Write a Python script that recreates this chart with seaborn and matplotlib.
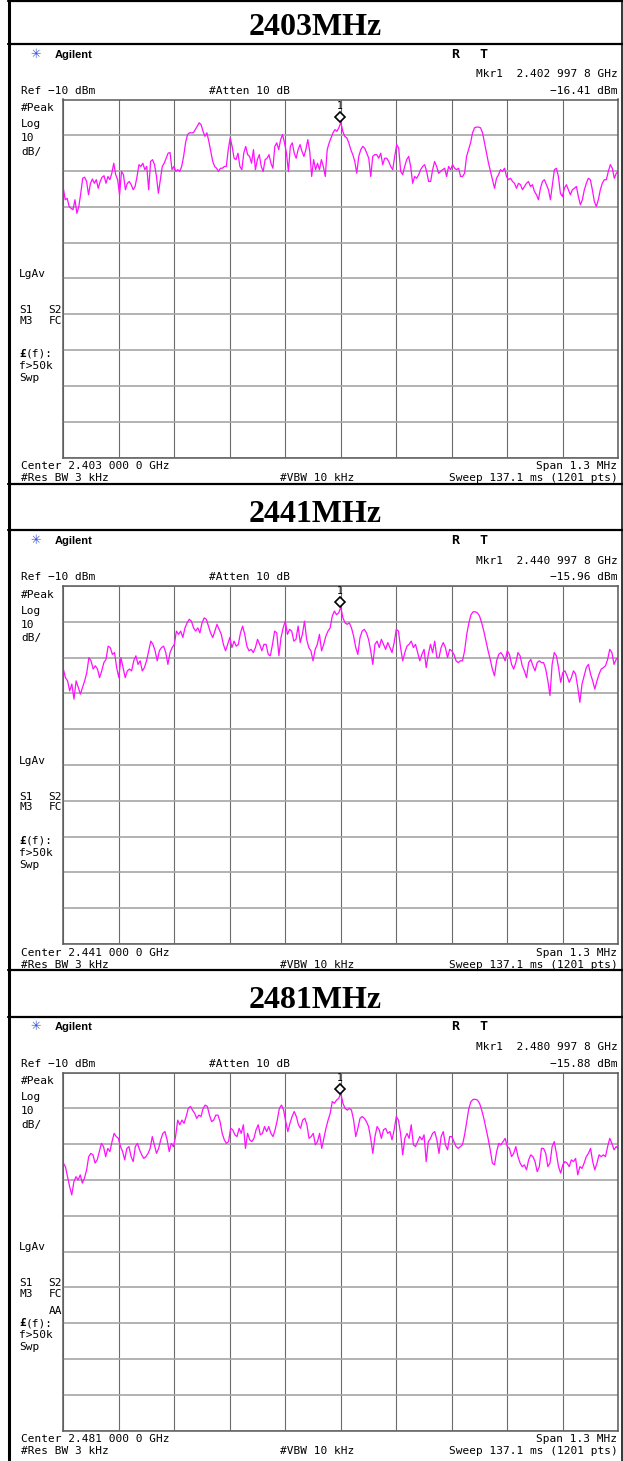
import numpy as np
import matplotlib
matplotlib.use("Agg")
import matplotlib.pyplot as plt
from matplotlib import transforms
import seaborn as sns

# three spectrum-analyser screens, one per channel
titles = ["2403MHz", "2441MHz", "2481MHz"]
centers_mhz = [2403.0, 2441.0, 2481.0]
center_labels = ["Center 2.403 000 0 GHz", "Center 2.441 000 0 GHz", "Center 2.481 000 0 GHz"]
mkr_labels = ["Mkr1  2.402 997 8 GHz", "Mkr1  2.440 997 8 GHz", "Mkr1  2.480 997 8 GHz"]
mkr_freq = [2402.9978, 2440.9978, 2480.9978]
mkr_level = [-16.41, -15.96, -15.88]
mkr_texts = ["\u221216.41 dBm", "\u221215.96 dBm", "\u221215.88 dBm"]
span_mhz = 1.3
ref_level = -10
db_div = 10

# trace levels in dBm, read off the screens
# lo = left edge .. centre (centre included), hi = right of centre .. right edge
lo_2403 = [-34.8, -38.0, -37.6, -39.9, -40.4, -40.8, -38.0, -41.8, -39.9, -36.2,
           -32.0, -31.7, -32.9, -36.6, -33.4, -32.2, -33.4,
           -32.4, -34.8, -32.9, -31.7, -31.3, -33.4, -31.5, -32.4, -30.6, -27.8,
           -31.0, -32.4, -36.6, -30.1, -31.0, -35.2, -33.4, -32.9, -33.8, -35.2,
           -34.3, -31.5, -28.2, -28.7, -27.8, -29.6, -28.7, -35.2, -27.3, -26.8,
           -28.2, -31.5, -36.2, -32.4, -28.7, -27.8, -26.4, -25.0, -24.8, -29.6,
           -28.7, -30.1, -29.6, -30.1, -28.7, -25.9, -22.1, -19.8, -19.3, -19.3,
           -19.3, -18.4, -17.5, -16.5, -17.0, -18.9, -20.3, -19.3, -21.7, -24.5,
           -27.3, -28.7, -29.2, -30.1, -29.2, -29.2, -28.7, -28.7, -24.0, -20.7,
           -23.1, -26.4, -26.8, -25.0, -28.7, -29.6, -25.0, -23.1, -25.4, -25.9,
           -27.8, -24.0, -29.6, -26.8, -25.4, -28.7, -30.1, -26.8, -26.4, -25.4,
           -27.8, -29.2, -23.1, -22.1, -24.0, -21.2, -19.8, -22.1, -25.0, -30.1,
           -23.1, -22.1, -25.0, -26.4, -24.0, -22.6, -24.5, -25.9, -24.0, -21.2,
           -24.5, -31.5, -26.8, -29.6, -27.8, -29.6, -26.8, -28.7, -31.5, -24.0,
           -22.1, -20.7, -19.3, -18.4, -18.9, -17.9, -16.41]
hi_2403 = [-18.9, -20.3, -20.7, -22.1, -24.0, -25.4, -27.3, -30.6, -25.9, -24.0,
           -23.1, -23.6, -25.0, -26.4, -31.5, -25.9, -25.4, -25.4, -26.4, -25.0,
           -28.2, -26.4, -26.4, -27.3, -28.7, -29.6, -25.9, -22.6, -23.6, -30.1,
           -31.0, -28.7, -26.8, -25.9, -28.7, -33.4, -31.5, -32.0, -31.0, -29.6,
           -28.7, -28.2, -30.1, -32.9, -32.9, -29.6, -27.3, -28.7, -30.6, -30.1,
           -29.6, -29.2, -31.5, -28.7, -29.6, -28.2, -29.2, -29.6, -29.2, -31.5,
           -31.5, -30.6, -25.9, -24.0, -22.1, -19.3, -17.9, -17.7, -17.7, -17.9,
           -19.3, -22.1, -25.0, -27.8, -30.1, -32.4, -34.8, -32.0, -31.0, -29.6,
           -30.1, -29.2, -31.5, -32.4, -32.0, -32.9, -33.4, -34.8, -33.4, -33.8,
           -35.2, -34.3, -33.4, -32.9, -34.3, -33.8, -35.7, -36.6, -38.0, -34.8,
           -32.9, -32.4, -33.8, -35.2, -38.0, -33.8, -29.6, -29.2, -31.5, -36.2,
           -37.1, -34.8, -33.8, -35.2, -36.6, -35.2, -34.8, -34.3, -37.1, -39.4,
           -38.0, -35.2, -33.4, -32.0, -32.4, -35.2, -38.5, -39.9, -38.0, -35.2,
           -33.4, -32.4, -32.4, -30.1, -28.2, -29.2, -32.0, -30.6, -30.1]

lo_2441 = [-33.2, -35.6, -36.5, -39.3, -37.4, -41.6, -36.5, -38.3, -40.2, -38.3,
           -36.5, -34.2, -30.0, -30.9, -33.2, -32.3, -33.2, -35.6, -33.7, -31.4,
           -30.5, -26.8, -27.2, -29.1, -28.6, -32.8, -35.6, -30.0, -32.8, -35.6,
           -33.7, -33.2, -33.7, -30.9, -29.5, -31.9, -30.9, -33.7, -32.8, -30.9,
           -28.1, -25.4, -26.3, -28.1, -30.9, -28.1, -27.2, -26.8, -28.6, -31.9,
           -28.6, -27.2, -26.3, -22.6, -23.5, -22.6, -24.4, -21.7, -20.3, -19.3,
           -19.8, -21.7, -22.6, -21.7, -23.1, -20.3, -18.9, -19.3, -21.2, -23.1,
           -24.4, -22.6, -20.7, -22.1, -23.5, -26.3, -28.1, -26.3, -24.4, -27.2,
           -25.4, -26.8, -26.3, -23.1, -21.2, -23.5, -26.8, -28.1, -27.7, -28.6,
           -27.2, -24.9, -26.3, -28.1, -26.3, -26.3, -29.1, -29.5, -26.3, -22.6,
           -23.1, -29.5, -24.4, -21.7, -19.8, -23.5, -22.1, -22.6, -25.4, -24.9,
           -21.2, -25.8, -23.5, -19.8, -24.9, -27.2, -28.1, -30.9, -27.7, -26.3,
           -23.5, -28.1, -26.3, -24.0, -22.6, -21.7, -18.4, -17.0, -18.0, -17.5,
           -15.96]
hi_2441 = [-18.9, -20.3, -20.7, -20.3, -21.7, -24.0, -27.2, -29.1, -24.4, -22.6,
           -22.1, -23.1, -24.9, -28.1, -31.9, -26.3, -25.4, -27.2, -24.9, -26.3,
           -27.7, -25.8, -27.2, -28.6, -25.8, -22.1, -22.6, -27.2, -30.9, -28.6,
           -26.8, -26.3, -25.4, -27.2, -26.3, -28.6, -30.9, -29.1, -27.7, -32.8,
           -29.1, -26.3, -28.6, -25.4, -30.0, -30.0, -27.2, -25.8, -27.2, -30.0,
           -27.7, -28.1, -29.1, -30.9, -31.4, -30.9, -30.9, -28.1, -23.5, -20.3,
           -18.0, -17.2, -17.2, -17.5, -18.4, -20.3, -22.6, -25.4, -28.1, -30.5,
           -33.2, -35.1, -30.9, -29.1, -28.6, -29.5, -30.9, -28.1, -29.1, -31.9,
           -33.2, -31.4, -28.6, -29.5, -32.3, -33.7, -35.6, -31.4, -30.5, -32.3,
           -33.7, -31.4, -30.9, -31.4, -31.4, -33.2, -36.5, -40.6, -31.9, -28.6,
           -29.5, -32.8, -36.9, -34.2, -33.7, -35.1, -36.9, -35.6, -33.7, -34.6,
           -38.3, -42.5, -37.4, -35.1, -32.8, -31.9, -34.6, -36.5, -38.8, -36.5,
           -34.6, -33.2, -32.8, -32.3, -30.5, -27.7, -28.6, -31.9, -30.5, -30.0]

lo_2481 = [-35.3, -36.3, -39.1, -41.9, -44.2, -40.5, -39.1, -40.0, -38.6, -40.9,
           -39.5, -37.2, -33.5, -32.6, -33.0, -35.3, -34.4, -32.1, -29.8, -30.7,
           -33.5, -31.2, -32.1, -29.3, -27.0, -27.9, -28.4, -30.7, -32.1, -34.4,
           -31.2, -30.7, -33.5, -34.9, -30.7, -29.8, -31.6, -33.0, -34.0, -33.5,
           -32.6, -31.2, -27.9, -30.2, -32.6, -31.2, -28.8, -27.0, -26.5, -28.8,
           -32.1, -29.8, -30.7, -27.9, -23.3, -24.6, -23.3, -24.2, -22.3, -20.0,
           -19.5, -20.5, -21.4, -22.8, -21.9, -22.3, -20.0, -19.1, -19.5, -21.9,
           -23.7, -23.3, -21.9, -21.9, -23.7, -27.0, -28.8, -29.8, -29.3, -25.6,
           -26.0, -27.4, -27.9, -25.6, -27.0, -24.6, -31.2, -27.0, -28.8, -29.3,
           -28.4, -26.0, -24.6, -27.4, -27.0, -25.1, -26.5, -25.1, -27.0, -27.9,
           -26.0, -23.3, -20.0, -19.1, -20.5, -23.7, -26.5, -24.2, -22.3, -20.9,
           -22.3, -24.6, -25.6, -23.3, -22.8, -24.6, -28.4, -27.9, -27.0, -30.2,
           -29.3, -27.0, -31.2, -28.4, -25.6, -23.3, -21.4, -18.1, -18.6, -17.7,
           -17.2, -15.88]
hi_2481 = [-18.6, -20.0, -20.5, -20.0, -20.5, -23.3, -27.9, -25.6, -22.8, -22.3,
           -22.8, -23.7, -25.1, -28.4, -32.6, -27.9, -25.1, -26.0, -28.4, -26.0,
           -25.6, -27.0, -26.5, -28.8, -26.0, -22.3, -23.3, -27.0, -33.0, -28.4,
           -27.0, -28.4, -24.6, -30.2, -30.7, -29.3, -27.9, -28.8, -27.4, -34.9,
           -29.3, -28.4, -27.0, -26.5, -28.8, -32.6, -27.9, -26.5, -30.2, -31.6,
           -27.9, -27.9, -29.3, -30.7, -31.2, -30.7, -30.2, -27.4, -23.7, -20.0,
           -18.1, -17.5, -17.5, -17.7, -18.6, -20.5, -22.8, -25.6, -28.4, -31.6,
           -35.3, -35.8, -32.1, -29.8, -30.2, -29.3, -28.4, -30.7, -31.2, -33.5,
           -32.6, -30.7, -33.5, -35.3, -36.3, -35.8, -37.2, -34.4, -33.0, -33.5,
           -34.9, -37.7, -36.3, -31.2, -31.2, -32.6, -36.3, -35.3, -30.7, -29.3,
           -32.6, -36.3, -38.1, -35.8, -34.9, -35.3, -36.3, -34.4, -34.9, -34.0,
           -38.6, -36.3, -36.8, -35.3, -33.5, -32.6, -31.2, -34.9, -37.2, -35.3,
           -33.0, -33.5, -33.0, -33.5, -30.7, -28.4, -29.8, -31.6, -30.7, -31.2]

traces = [(lo_2403, hi_2403), (lo_2441, hi_2441), (lo_2481, hi_2481)]

sns.set_style("white")
plt.rcParams["font.family"] = ["DejaVu Sans Mono", "DejaVu Sans"]
plt.rcParams["text.color"] = "black"

W, H = 623, 1461
fig = plt.figure(figsize=(W / 100, H / 100), dpi=100)

# pixel canvas for frame lines and screen annotations
bg = fig.add_axes([0, 0, 1, 1])
bg.set_xlim(0, W)
bg.set_ylim(H, 0)
bg.axis("off")


def txt(x, y, s, ha="left", size=8, **kw):
    bg.text(x, y, s, ha=ha, va="baseline", fontsize=size, **kw)


bg.plot([8.5, 8.5], [0, H], color="black", lw=2.2, solid_capstyle="butt")
bg.plot([622, 622], [0, H], color="black", lw=1.1, solid_capstyle="butt")
bg.plot([8, W], [1, 1], color="black", lw=1.6)

step = 486.5
for k in range(3):
    off = k * step
    if k > 0:
        bg.plot([8, W], [off - 3, off - 3], color="black", lw=1.6)
    bg.plot([8, W], [off + 43.5, off + 43.5], color="black", lw=1.6)

    bg.text(315, off + 35, titles[k], ha="center", va="baseline", fontsize=23,
            family="Liberation Serif", weight="bold")

    # header
    bg.text(36, off + 54, "\u2733", ha="center", va="center", fontsize=9,
            color="#3a55d8", family="DejaVu Sans")
    txt(55, off + 57.5, "Agilent", size=8, family="Liberation Sans", weight="bold")
    txt(451, off + 57.5, "R", size=9.5, weight="bold")
    txt(479, off + 57.5, "T", size=9.5, weight="bold")
    txt(617.5, off + 77, mkr_labels[k], ha="right")
    txt(21, off + 94, "Ref \u221210 dBm")
    txt(209, off + 94, "#Atten 10 dB")
    txt(617.5, off + 94, mkr_texts[k], ha="right")

    # left column
    txt(21, off + 111, "#Peak")
    txt(21, off + 127, "Log")
    txt(21, off + 141, "10")
    txt(21, off + 155, "dB/")
    txt(19, off + 277, "LgAv")
    txt(19, off + 313, "S1")
    txt(62, off + 313, "S2", ha="right")
    txt(19, off + 324, "M3")
    txt(62, off + 324, "FC", ha="right")
    sh = 0
    if k == 2:
        txt(62, off + 341, "AA", ha="right")
        sh = -4
    txt(19, off + 357 + sh, "\u00a3", weight="bold")
    txt(25.5, off + 357 + sh, "(f):")
    txt(19, off + 369 + sh, "f>50k")
    txt(19, off + 381 + sh, "Swp")

    # footer
    txt(21, off + 469, center_labels[k])
    txt(617.5, off + 469, "Span 1.3 MHz", ha="right")
    txt(21, off + 481, "#Res BW 3 kHz")
    txt(280, off + 481, "#VBW 10 kHz")
    txt(617.5, off + 481, "Sweep 137.1 ms (1201 pts)", ha="right")

    # graticule + trace
    ax = fig.add_axes([63.3 / W, 1 - (457.5 + off) / H, 555 / W, 358 / H])
    c = centers_mhz[k]
    f0, f1 = c - span_mhz / 2, c + span_mhz / 2
    lo, hi = traces[k]
    freq = np.concatenate([np.linspace(f0, c, len(lo)),
                           np.linspace(c, f1, len(hi) + 1)[1:]])
    level = np.array(lo + hi)
    sns.lineplot(x=freq, y=level, ax=ax, color="#ff10ff", lw=0.9,
                 estimator=None, sort=False, legend=False)
    ax.set(xlabel=None, ylabel=None)
    ax.set_xlim(f0, f1)
    ax.set_ylim(ref_level - 10 * db_div, ref_level)
    ax.set_xticks(np.linspace(f0, f1, 11))
    ax.set_yticks(np.arange(ref_level - 10 * db_div, ref_level + 1, db_div))
    ax.grid(axis="x", color="#6c6c6c", lw=0.8)
    ax.grid(axis="y", color="#a6a6a6", lw=1.2)
    ax.tick_params(length=0, labelbottom=False, labelleft=False)
    for s in ax.spines.values():
        s.set_color("#5a5a5a")
        s.set_linewidth(1.1)

    dia = transforms.offset_copy(ax.transData, fig=fig, x=0, y=5, units="dots")
    ax.plot([mkr_freq[k]], [mkr_level[k]], marker="D", ms=5, mfc="white",
            mec="black", mew=1.2, transform=dia, clip_on=False, zorder=5)
    one = transforms.offset_copy(ax.transData, fig=fig, x=0, y=16, units="dots")
    ax.text(mkr_freq[k], mkr_level[k], "1", transform=one, ha="center",
            va="center", fontsize=7)

fig.savefig("out.png", dpi=100)
